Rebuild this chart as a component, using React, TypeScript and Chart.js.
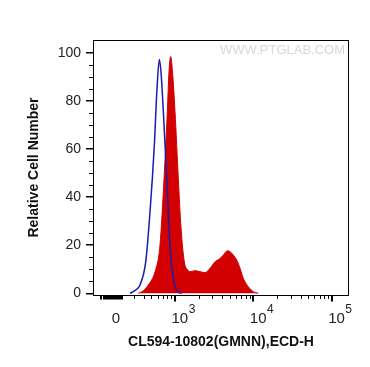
import React, { useEffect, useRef } from "react";
import { Chart, registerables } from "chart.js";

Chart.register(...registerables);

// x values are positions on the display axis in decades (3 = 10^3, 4 = 10^4, 5 = 10^5)
const controlX = [2.425, 2.49, 2.553, 2.626, 2.681, 2.736, 2.77, 2.8, 2.821, 2.851, 2.894, 2.936, 2.978, 3.026, 3.086];
const controlY = [0, 1.2, 3.5, 13.1, 33.9, 61.6, 85, 97.2, 92, 75.5, 47.8, 20, 6.2, 1, 0];

const sampleX = [2.531, 2.6, 2.659, 2.745, 2.808, 2.86, 2.902, 2.923, 2.945, 2.968, 3.0, 3.042, 3.077, 3.119, 3.16, 3.192, 3.255, 3.319, 3.383, 3.447, 3.511, 3.575, 3.617, 3.668, 3.702, 3.745, 3.788, 3.83, 3.872, 3.936, 4.0, 4.064];
const sampleY = [0, 1.2, 3.5, 9, 20, 47.8, 75.5, 92, 98.4, 92, 75.5, 47.8, 27, 13.1, 9.8, 9.0, 9.4, 9.0, 8.6, 10.4, 13.1, 14.5, 15.9, 17.7, 17.3, 15.9, 13.8, 10.4, 6.2, 2.7, 0.7, 0];

const yMajorTicks = [0, 20, 40, 60, 80, 100];
const yMinorTicks = [5, 10, 15, 25, 30, 35, 45, 50, 55, 65, 70, 75, 85, 90, 95];
const xDecadeTicks = [3, 4, 5];
const xDecadeExponents = ["3", "4", "5"];
const xZeroPosition = 2.246;
const xZeroLabel = "0";
const xNearZeroTicks = [2.06, 2.09, 2.12, 2.15, 2.17, 2.19, 2.21, 2.23, 2.25, 2.27, 2.29, 2.31, 2.32];
const xLowMinorTicks = [2.3, 2.477, 2.602, 2.699, 2.778, 2.845, 2.903, 2.954];
const minorMultipliers = [2, 3, 4, 5, 6, 7, 8, 9];

const xMin = 1.953;
const xMax = 5.221;
const yMin = -0.7;
const yMax = 105.3;

const yTitle = "Relative Cell Number";
const xTitle = "CL594-10802(GMNN),ECD-H";
const watermark = "WWW.PTGLAB.COM";

const decorPlugin = {
  id: "decor",
  afterDraw(chart: any) {
    const { ctx, chartArea: a, scales } = chart;
    const x = scales.x;
    const y = scales.y;
    ctx.save();
    // watermark
    ctx.font = "13px 'Liberation Sans', Arial, sans-serif";
    ctx.fillStyle = "#d8d8d8";
    ctx.textAlign = "right";
    ctx.textBaseline = "middle";
    ctx.fillText(watermark, a.right - 4, a.top + 10);

    // frame
    ctx.strokeStyle = "#000";
    ctx.lineWidth = 1;
    ctx.strokeRect(Math.round(a.left) + 0.5, Math.round(a.top) + 0.5, Math.round(a.right - a.left) - 1, Math.round(a.bottom - a.top));

    // y minor ticks
    ctx.beginPath();
    for (const v of yMinorTicks) {
      const py = Math.round(y.getPixelForValue(v)) + 0.5;
      ctx.moveTo(a.left - 4, py);
      ctx.lineTo(a.left, py);
    }
    ctx.stroke();

    const base = Math.round(a.bottom) + 0.5;
    // x minor ticks
    const minors: number[] = [...xLowMinorTicks];
    for (const d of [3, 4]) for (const m of minorMultipliers) minors.push(d + Math.log10(m));
    ctx.beginPath();
    for (const u of minors) {
      if (u < xMin || u > xMax) continue;
      const px = Math.round(x.getPixelForValue(u)) + 0.5;
      ctx.moveTo(px, base);
      ctx.lineTo(px, base + 3.5);
    }
    ctx.stroke();
    ctx.lineWidth = 2;
    ctx.beginPath();
    for (const u of xNearZeroTicks) {
      const px = Math.round(x.getPixelForValue(u));
      ctx.moveTo(px, base);
      ctx.lineTo(px, base + 4);
    }
    ctx.stroke();
    ctx.beginPath();
    for (const u of xDecadeTicks) {
      const px = Math.round(x.getPixelForValue(u));
      ctx.moveTo(px, base);
      ctx.lineTo(px, base + 6);
    }
    ctx.stroke();

    // x labels
    ctx.fillStyle = "#222";
    ctx.textBaseline = "alphabetic";
    ctx.font = "15px 'Liberation Sans', Arial, sans-serif";
    ctx.textAlign = "center";
    ctx.fillText(xZeroLabel, x.getPixelForValue(xZeroPosition), 323);
    xDecadeTicks.forEach((u, i) => {
      const px = x.getPixelForValue(u);
      ctx.font = "15px 'Liberation Sans', Arial, sans-serif";
      ctx.textAlign = "left";
      const bx = px - 3.5;
      ctx.fillText("10", bx, 323);
      const w = ctx.measureText("10").width;
      ctx.font = "12px 'Liberation Sans', Arial, sans-serif";
      ctx.fillText(xDecadeExponents[i], bx + w + 0.5, 313);
    });
    ctx.restore();
  },
};

export default function App() {
  const ref = useRef<HTMLCanvasElement | null>(null);
  useEffect(() => {
    if (!ref.current) return;
    const chart = new Chart(ref.current, {
      type: "line",
      data: {
        datasets: [
          {
            label: "control",
            data: controlX.map((v, i) => ({ x: v, y: controlY[i] })),
            borderColor: "#1c1caa",
            borderWidth: 1.5,
            pointRadius: 0,
            fill: false,
            cubicInterpolationMode: "monotone",
            order: 0,
          },
          {
            label: "sample",
            data: sampleX.map((v, i) => ({ x: v, y: sampleY[i] })),
            borderColor: "#d20000",
            backgroundColor: "#d20000",
            borderWidth: 1,
            pointRadius: 0,
            fill: "origin",
            cubicInterpolationMode: "monotone",
            order: 1,
          },
        ],
      },
      options: {
        animation: false,
        responsive: true,
        maintainAspectRatio: false,
        layout: { padding: { top: 40, right: 21, bottom: 0, left: 0 } },
        plugins: { legend: { display: false }, tooltip: { enabled: false } },
        scales: {
          x: {
            type: "linear",
            min: xMin,
            max: xMax,
            ticks: { display: false },
            grid: { display: false },
            border: { display: false },
            title: {
              display: true,
              text: xTitle,
              color: "#111",
              font: { family: "'Liberation Sans', Arial, sans-serif", size: 14, weight: "bold" },
              padding: { top: 0, bottom: 16.6 },
            },
            afterFit: (s: any) => {
              s.height = 72;
            },
          },
          y: {
            type: "linear",
            min: yMin,
            max: yMax,
            afterBuildTicks: (s: any) => {
              s.ticks = yMajorTicks.map((v) => ({ value: v }));
            },
            ticks: {
              color: "#222",
              padding: 5,
              font: { family: "'Liberation Sans', Arial, sans-serif", size: 14 },
            },
            grid: { display: true, drawOnChartArea: false, drawTicks: true, tickLength: 7, color: "#000", lineWidth: 1.5 },
            border: { display: false },
            title: {
              display: true,
              text: yTitle,
              color: "#111",
              font: { family: "'Liberation Sans', Arial, sans-serif", size: 14, weight: "bold" },
              padding: { top: 26, bottom: 0 },
            },
            afterFit: (s: any) => {
              s.width = 93;
            },
          },
        },
      },
      plugins: [decorPlugin],
    } as any);
    return () => chart.destroy();
  }, []);
  return (
    <div style={{ position: "absolute", left: 0, top: 0, width: 370, height: 367, background: "#fff" }}>
      <canvas ref={ref} />
    </div>
  );
}
